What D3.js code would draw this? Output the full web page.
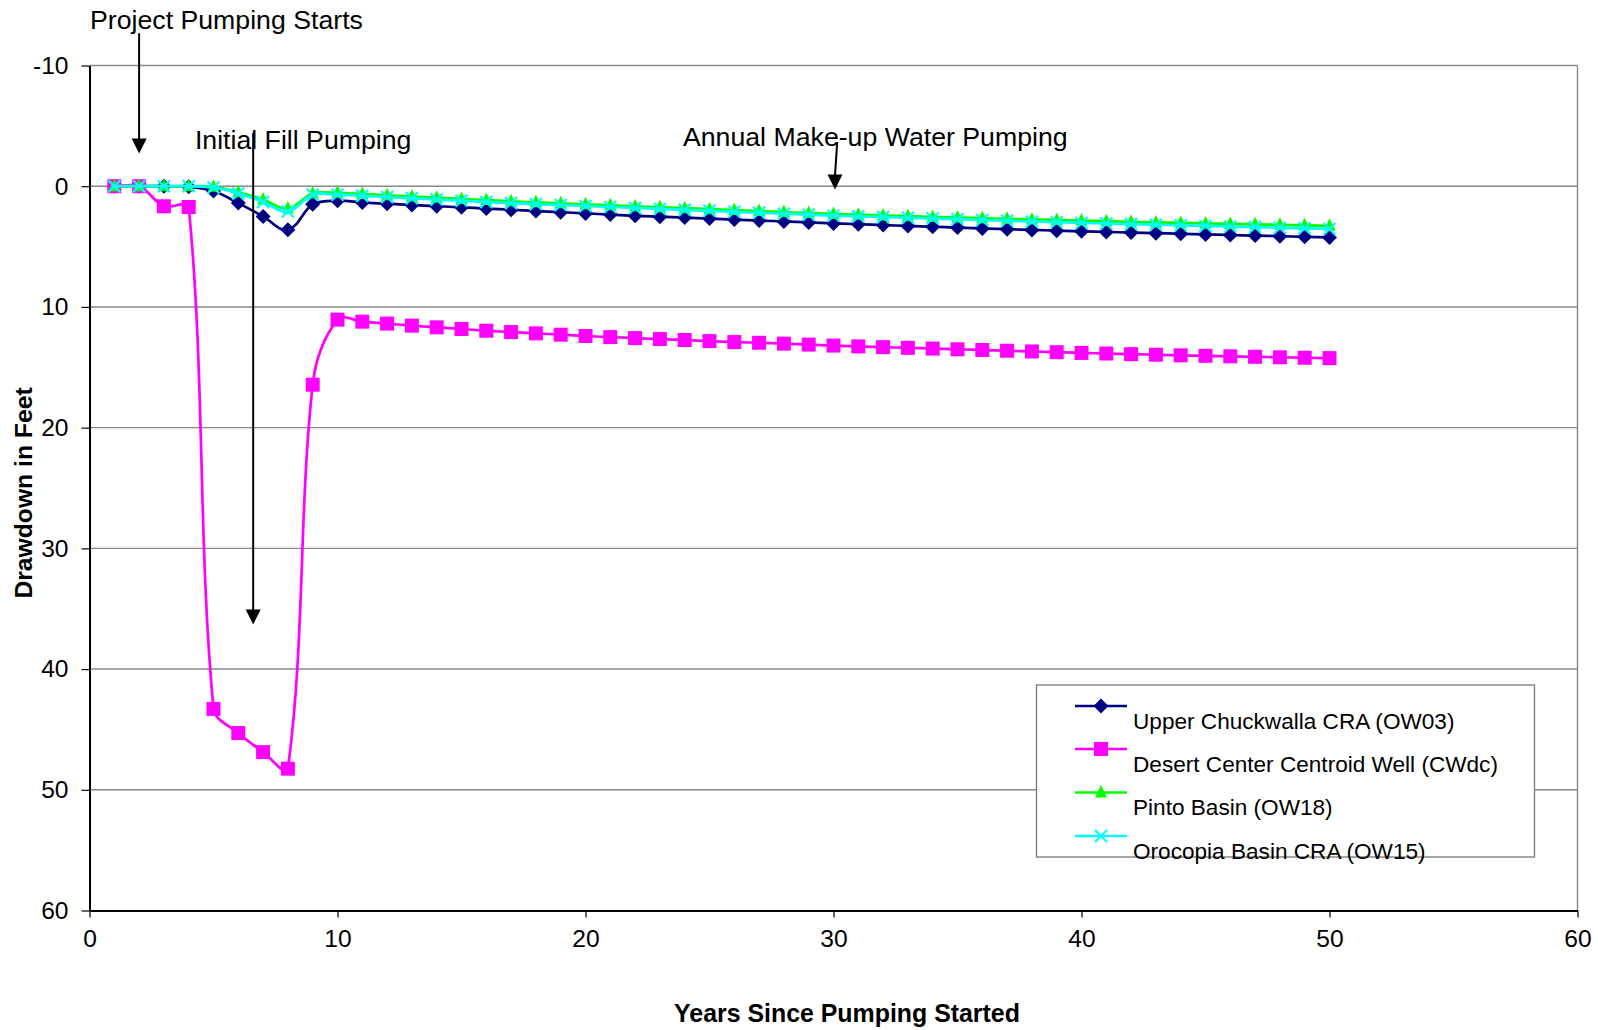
<!DOCTYPE html>
<html><head><meta charset="utf-8">
<script src="https://cdn.jsdelivr.net/npm/d3@7"></script>
<style>
body{margin:0;background:#fff;}
text{font-family:"Liberation Sans",Arial,sans-serif;fill:#000;}
</style></head>
<body>
<svg id="chart" width="1598" height="1030"></svg>
<script>
const years = d3.range(1, 51);
const seriesNames = ["Upper Chuckwalla CRA (OW03)","Desert Center Centroid Well (CWdc)","Pinto Basin (OW18)","Orocopia Basin CRA (OW15)"];
const seriesColors = ["#000080","#FF00FF","#00FF00","#00FFFF"];
const seriesMarkers = ["diamond","square","triangle","x"];
const upperChuckwalla = [0,0,0,0.05,0.4,1.4,2.5,3.6,1.5,1.2,1.35,1.45,1.55,1.65,1.75,1.85,1.95,2.05,2.15,2.25,2.35,2.45,2.52,2.6,2.68,2.76,2.84,2.92,3.0,3.08,3.15,3.22,3.29,3.36,3.43,3.5,3.56,3.62,3.68,3.74,3.79,3.84,3.89,3.94,3.99,4.04,4.09,4.14,4.19,4.24];
const desertCenter = [0,0,1.66,1.72,43.3,45.3,46.88,48.25,16.44,11.05,11.22,11.38,11.55,11.69,11.83,11.97,12.08,12.19,12.3,12.41,12.5,12.58,12.66,12.74,12.83,12.91,12.97,13.04,13.12,13.2,13.27,13.33,13.39,13.45,13.51,13.57,13.63,13.69,13.75,13.81,13.86,13.91,13.96,14.01,14.05,14.09,14.13,14.17,14.21,14.24];
const pintoBasin = [0,0,0,0,0.05,0.5,1.1,1.85,0.6,0.55,0.65,0.75,0.85,0.95,1.05,1.15,1.25,1.33,1.42,1.5,1.58,1.66,1.74,1.82,1.9,1.98,2.06,2.14,2.22,2.3,2.36,2.42,2.48,2.54,2.6,2.65,2.7,2.75,2.8,2.85,2.9,2.95,3.0,3.04,3.08,3.12,3.16,3.2,3.24,3.28];
const orocopia = [0,0,0,0,0.1,0.6,1.3,2.1,0.7,0.7,0.8,0.9,1.0,1.1,1.2,1.3,1.4,1.48,1.56,1.64,1.72,1.8,1.88,1.96,2.04,2.12,2.2,2.28,2.36,2.44,2.5,2.56,2.62,2.68,2.74,2.8,2.86,2.92,2.98,3.04,3.09,3.14,3.19,3.24,3.29,3.34,3.39,3.44,3.49,3.54];
const seriesValues = [upperChuckwalla, desertCenter, pintoBasin, orocopia];
const xTicks = [0,10,20,30,40,50,60];
const yTicks = [-10,0,10,20,30,40,50,60];
const annotations = [
  {label:"Project Pumping Starts", tx:0.02, ty:-13.0, ax:2.0, ax2:2.0, top:-12.67, tip:-2.7},
  {label:"Initial Fill Pumping", tx:4.25, ty:-3.1, ax:6.6, ax2:6.6, top:-4.4, tip:36.3},
  {label:"Annual Make-up Water Pumping", tx:23.93, ty:-3.3, ax:30.15, ax2:30.06, top:-3.66, tip:0.28}
];

const svg = d3.select("#chart");
const x = d3.scaleLinear().domain([0,60]).range([89.5,1577.5]);
const y = d3.scaleLinear().domain([-10,60]).range([65.5,910.5]);

// Excel-like smoothed line: tangent along neighbours, control distance = 1/3 of segment length
function ExcelSmooth(context){ this._context = context; }
ExcelSmooth.prototype = {
  areaStart(){}, areaEnd(){},
  lineStart(){ this._pts = []; },
  point(px,py){ this._pts.push([+px,+py]); },
  lineEnd(){
    const p = this._pts, c = this._context, n = p.length;
    if(!n) return;
    c.moveTo(p[0][0],p[0][1]);
    if(n===1) return;
    const tan = p.map((pt,i)=>{
      const a = p[Math.max(0,i-1)], b = p[Math.min(n-1,i+1)];
      const dx = b[0]-a[0], dy = b[1]-a[1], L = Math.hypot(dx,dy)||1;
      return [dx/L, dy/L];
    });
    for(let i=0;i<n-1;i++){
      const a = p[i], b = p[i+1];
      const d = Math.hypot(b[0]-a[0], b[1]-a[1])/3;
      c.bezierCurveTo(a[0]+tan[i][0]*d, a[1]+tan[i][1]*d, b[0]-tan[i+1][0]*d, b[1]-tan[i+1][1]*d, b[0], b[1]);
    }
  }
};
const curveExcel = ctx => new ExcelSmooth(ctx);

// gridlines
svg.append("g").selectAll("line").data(yTicks.filter(d=>d<60)).join("line")
  .attr("x1",x(0)).attr("x2",x(60)).attr("y1",d=>y(d)).attr("y2",d=>y(d))
  .attr("stroke","#888").attr("stroke-width",1.4);
svg.append("line").attr("x1",x(60)).attr("x2",x(60)).attr("y1",y(-10)).attr("y2",y(60))
  .attr("stroke","#888").attr("stroke-width",1.4);

// axes
const gy = svg.append("g").attr("transform",`translate(${x(0)},0)`)
  .call(d3.axisLeft(y).tickValues(yTicks).tickSize(8).tickSizeOuter(0).tickPadding(13).tickFormat(d3.format("d")));
const gx = svg.append("g").attr("transform",`translate(0,${y(60)})`)
  .call(d3.axisBottom(x).tickValues(xTicks).tickSize(7).tickSizeOuter(0).tickPadding(12).tickFormat(d3.format("d")));
[gx,gy].forEach(g=>{
  g.select(".domain").attr("stroke","#000").attr("stroke-width",2);
  g.selectAll(".tick line").attr("stroke","#000").attr("stroke-width",1.2);
  g.selectAll(".tick text").attr("font-size",24.6).attr("font-family","Liberation Sans, Arial, sans-serif").attr("fill","#000");
});
gy.selectAll(".tick text").text(d=>d<0?"-"+Math.abs(d):d);

// markers
function markerPath(type){
  if(type==="diamond") return "M0,-7.5L7.5,0L0,7.5L-7.5,0Z";
  if(type==="square") return "M-7,-7H7V7H-7Z";
  if(type==="triangle") return "M0,-7.5L6,5L-6,5Z";
  return "M-6,-6L6,6M-6,6L6,-6";
}
const line = d3.line().x((d,i)=>x(years[i])).y(d=>y(d)).curve(curveExcel);
seriesValues.forEach((vals,si)=>{
  const g = svg.append("g");
  g.append("path").attr("d",line(vals)).attr("fill","none")
    .attr("stroke",seriesColors[si]).attr("stroke-width",2.7);
  const isX = seriesMarkers[si]==="x";
  g.selectAll("path.m").data(vals).join("path").attr("class","m")
    .attr("transform",(d,i)=>`translate(${x(years[i])},${y(d)})`)
    .attr("d",markerPath(seriesMarkers[si]))
    .attr("fill",isX?"none":seriesColors[si])
    .attr("stroke",isX?seriesColors[si]:"none")
    .attr("stroke-width",isX?2.2:0);
});

// annotations
const ann = svg.append("g");
annotations.forEach(a=>{
  ann.append("text").attr("x",x(a.tx)).attr("y",y(a.ty)).attr("font-size",26.7).text(a.label);
  ann.append("line").attr("x1",x(a.ax)).attr("y1",y(a.top)).attr("x2",x(a.ax2)).attr("y2",y(a.tip)-14)
    .attr("stroke","#000").attr("stroke-width",2);
  const tx = x(a.ax2), ty = y(a.tip);
  ann.append("path").attr("d",`M${tx},${ty}L${tx-7.5},${ty-15}L${tx+7.5},${ty-15}Z`).attr("fill","#000");
});

// axis titles
svg.append("text").attr("x",847).attr("y",1022).attr("text-anchor","middle")
  .attr("font-size",24.9).attr("font-weight","bold").text("Years Since Pumping Started");
svg.append("text").attr("transform","translate(32,493) rotate(-90)").attr("text-anchor","middle")
  .attr("font-size",24.7).attr("font-weight","bold").text("Drawdown in Feet");

// legend
const lg = svg.append("g");
lg.append("rect").attr("x",1036.5).attr("y",685).attr("width",498).attr("height",172)
  .attr("fill","#fff").attr("stroke","#777").attr("stroke-width",1.3);
const rowY = [706,749,792.5,836];
seriesNames.forEach((name,i)=>{
  const ry = rowY[i];
  lg.append("line").attr("x1",1075).attr("x2",1127).attr("y1",ry).attr("y2",ry)
    .attr("stroke",seriesColors[i]).attr("stroke-width",2.7);
  const isX = seriesMarkers[i]==="x";
  lg.append("path").attr("transform",`translate(1101,${ry})`).attr("d",markerPath(seriesMarkers[i]))
    .attr("fill",isX?"none":seriesColors[i]).attr("stroke",isX?seriesColors[i]:"none").attr("stroke-width",isX?2.2:0);
  lg.append("text").attr("x",1133).attr("y",ry+22.5).attr("font-size",22.6).text(name);
});
</script>
</body></html>
